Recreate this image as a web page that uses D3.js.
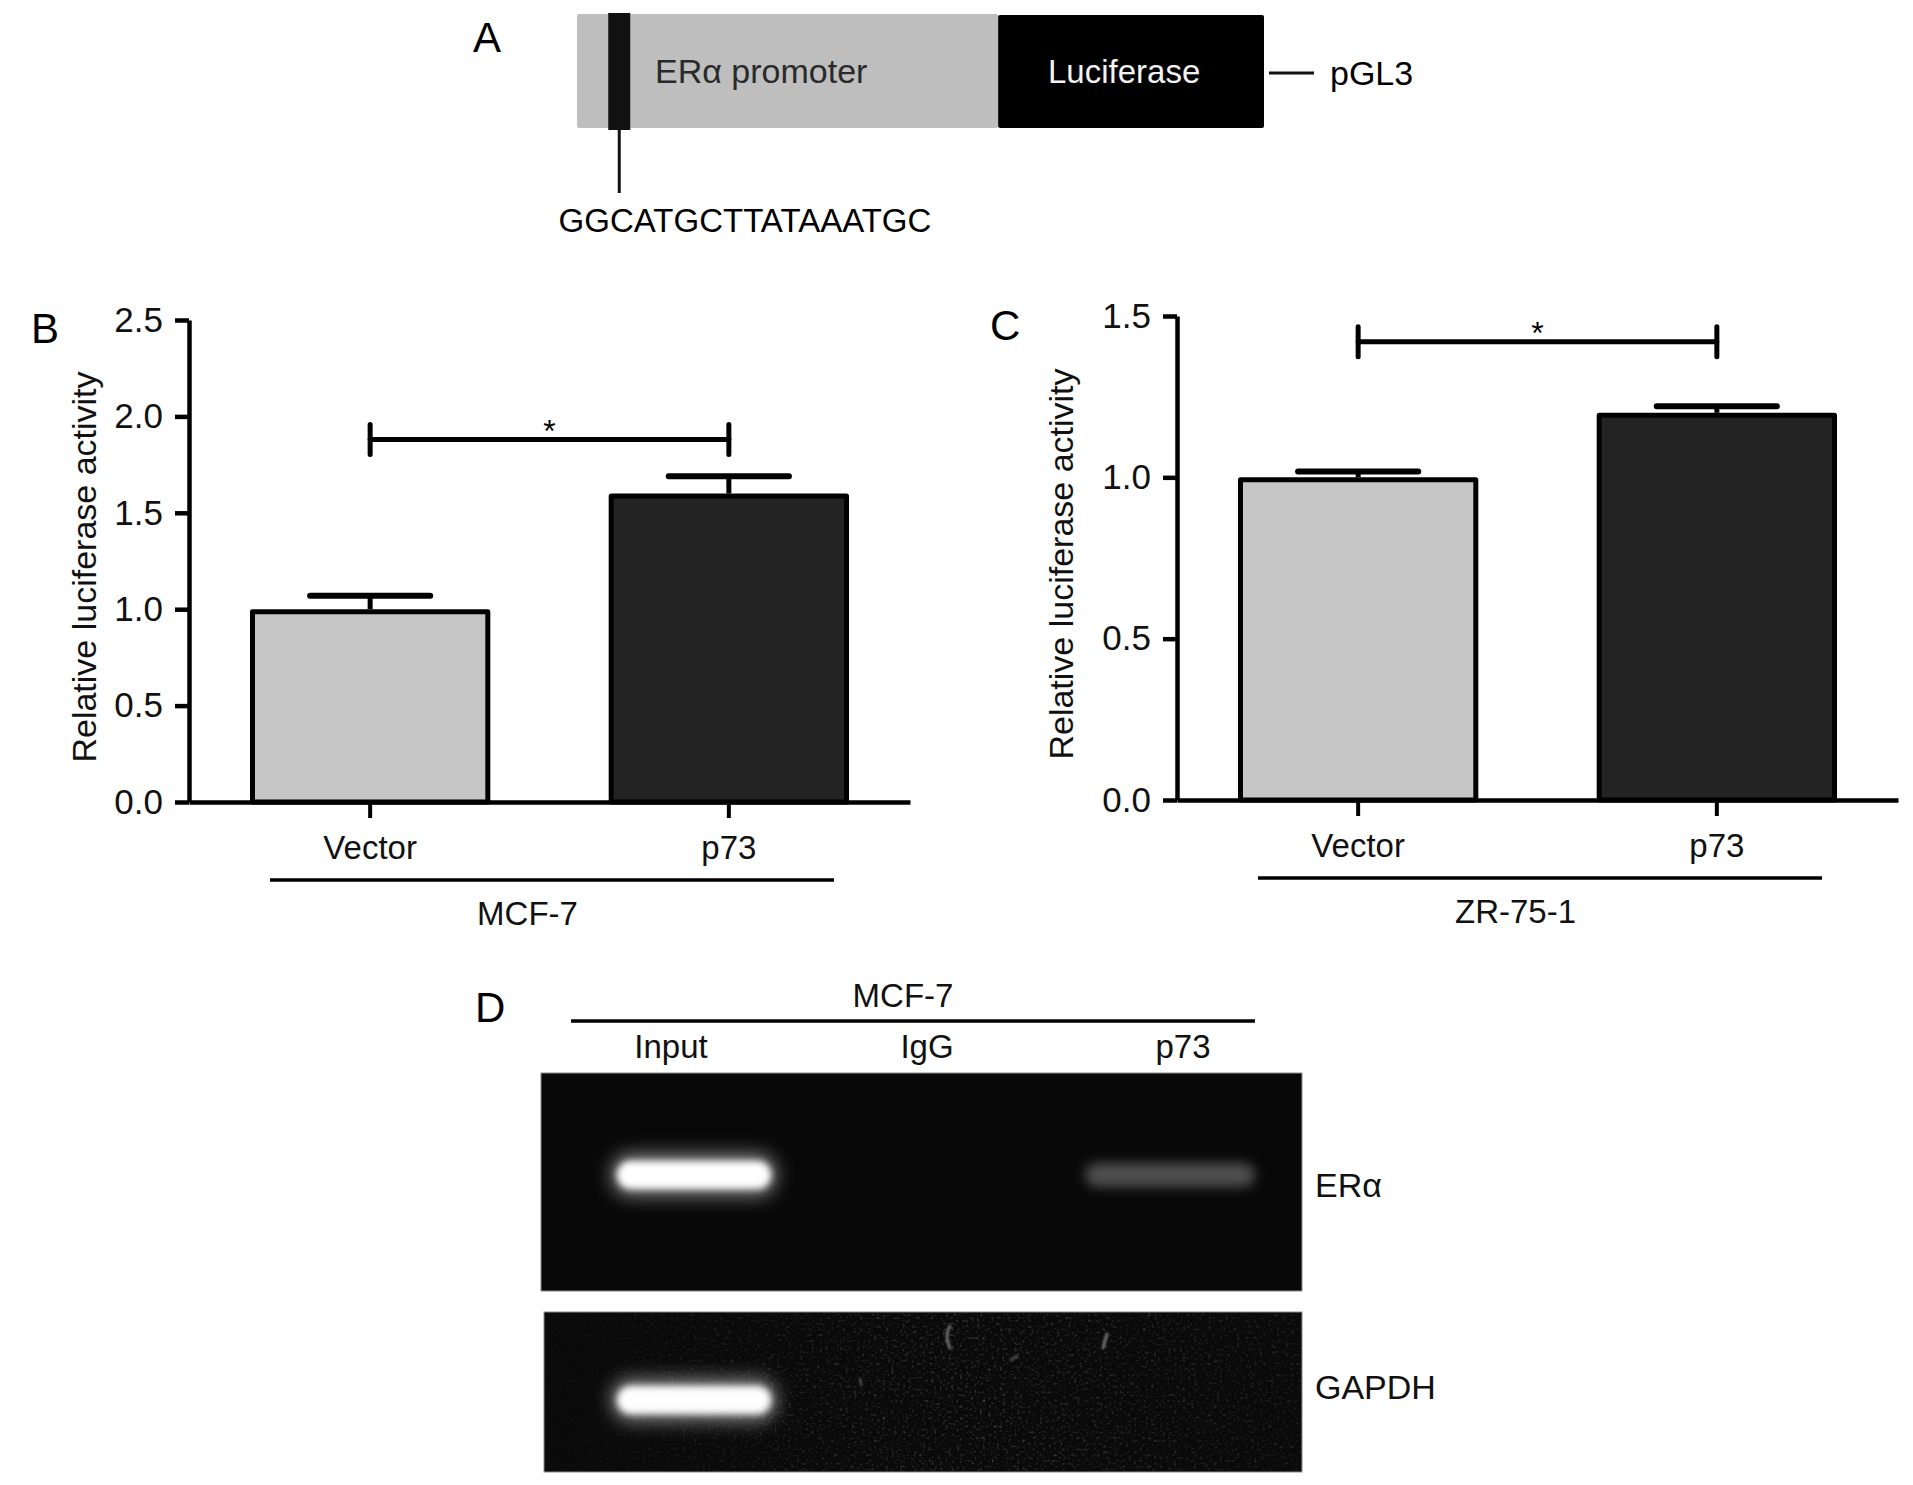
<!DOCTYPE html>
<html><head><meta charset="utf-8">
<script src="https://cdn.jsdelivr.net/npm/d3@7"></script>
<style>
html,body{margin:0;padding:0;background:#fff}
svg{display:block}
text{font-family:"Liberation Sans",Arial,Helvetica,sans-serif}
</style>
</head><body>
<svg id="fig" width="1913" height="1485"></svg>
<script>
// ---------------- data ----------------
const categories = ["Vector", "p73"];
const mcf7Values = [1.0, 1.6];
const mcf7Errors = [0.07, 0.09];
const mcf7Sig = 1.88;          // level of significance bracket
const zr751Values = [1.0, 1.2];
const zr751Errors = [0.018, 0.02];
const zr751Sig = 1.42;
const mcf7Ticks = [0, 0.5, 1.0, 1.5, 2.0, 2.5];
const zr751Ticks = [0, 0.5, 1.0, 1.5];
const yAxisTitle = "Relative luciferase activity";
const cellLines = ["MCF-7", "ZR-75-1"];
const gelLanes = ["Input", "IgG", "p73"];
const eraBand = [1.0, 0.0, 0.22];
const gapdhBand = [1.0, 0.0, 0.0];
const gelTargets = ["ERα", "GAPDH"];
const promoterSequence = "GGCATGCTTATAAATGC";
const constructParts = ["ERα promoter", "Luciferase"];
const vectorName = "pGL3";

// ---------------- style ----------------
const barFills = ["#c6c6c6", "#232323"];
const FS = 34;
const svg = d3.select("#fig");
const defs = svg.append("defs");

// ---------------- panel A ----------------
(function panelA(){
  const g = svg.append("g");
  g.append("text").attr("x", 473).attr("y", 52).attr("font-size", 42).text("A");
  const px = d3.scaleLinear().domain([0, 1]).range([577, 1264]);
  const split = 0.613;
  g.append("rect").attr("x", px(0)).attr("y", 14).attr("width", px(split) - px(0)).attr("height", 114)
    .attr("fill", "#bebebe").attr("rx", 2);
  g.append("rect").attr("x", px(split)).attr("y", 15).attr("width", px(1) - px(split)).attr("height", 113)
    .attr("fill", "#000").attr("rx", 2);
  const siteX = px(0.0615);
  g.append("rect").attr("x", siteX - 11).attr("y", 13).attr("width", 22).attr("height", 117).attr("fill", "#111");
  g.append("line").attr("x1", siteX).attr("x2", siteX).attr("y1", 128).attr("y2", 193)
    .attr("stroke", "#111").attr("stroke-width", 3);
  g.append("text").attr("x", 655).attr("y", 83).attr("font-size", FS).attr("fill", "#2a2a2a").text(constructParts[0]);
  g.append("text").attr("x", 1048).attr("y", 83).attr("font-size", 33).attr("fill", "#f2f2f2").text(constructParts[1]);
  g.append("line").attr("x1", 1269).attr("x2", 1314).attr("y1", 73).attr("y2", 73)
    .attr("stroke", "#111").attr("stroke-width", 3);
  g.append("text").attr("x", 1330).attr("y", 85).attr("font-size", FS).text(vectorName);
  g.append("text").attr("x", 745).attr("y", 232).attr("font-size", 33).attr("text-anchor", "middle")
    .text(promoterSequence);
})();

// ---------------- bar panels ----------------
function barPanel(o){
  const g = svg.append("g");
  const x = d3.scaleBand().domain(categories).range([o.x0, o.x0 + 721]).paddingInner(0.33).paddingOuter(0.17);
  const y = d3.scaleLinear().domain([0, o.yMax]).range([o.yBottom, o.yTop]);
  const bw = x.bandwidth();

  g.append("text").attr("x", o.letterX).attr("y", o.letterY).attr("font-size", 42).text(o.letter);

  // y axis
  const ya = g.append("g").attr("transform", `translate(${o.x0},0)`)
    .call(d3.axisLeft(y).tickValues(o.ticks).tickFormat(d3.format(".1f")).tickSize(14).tickSizeOuter(0).tickPadding(12));
  ya.select(".domain").attr("stroke-width", 4.5).attr("stroke", "#000");
  ya.selectAll(".tick line").attr("stroke-width", 4.5).attr("stroke", "#000");
  ya.selectAll(".tick text").attr("font-size", 35).attr("fill", "#111")
    .style("font-family", '"Liberation Sans",Arial,sans-serif');
  ya.attr("font-family", null).attr("font-size", null);

  // y title
  g.append("text")
    .attr("transform", `translate(${o.titleX},${(o.yTop + o.yBottom) / 2 + 6}) rotate(-90)`)
    .attr("text-anchor", "middle").attr("font-size", FS).attr("fill", "#111").text(yAxisTitle);

  // bars
  g.selectAll("rect.bar").data(o.values).join("rect").attr("class", "bar")
    .attr("x", (d, i) => x(categories[i]) + 2.5)
    .attr("y", d => y(d) + 2.5)
    .attr("width", bw - 5)
    .attr("height", d => o.yBottom - y(d) - 2.5)
    .attr("fill", (d, i) => barFills[i])
    .attr("stroke", "#000").attr("stroke-width", 5).attr("stroke-linejoin", "round");

  // error bars
  const eb = g.selectAll("g.err").data(o.values).join("g").attr("class", "err");
  eb.append("line")
    .attr("x1", (d, i) => x(categories[i]) + bw / 2).attr("x2", (d, i) => x(categories[i]) + bw / 2)
    .attr("y1", d => y(d)).attr("y2", (d, i) => y(d + o.errors[i]))
    .attr("stroke", "#000").attr("stroke-width", 5);
  eb.append("line")
    .attr("x1", (d, i) => x(categories[i]) + bw / 4).attr("x2", (d, i) => x(categories[i]) + 3 * bw / 4)
    .attr("y1", (d, i) => y(d + o.errors[i])).attr("y2", (d, i) => y(d + o.errors[i]))
    .attr("stroke", "#000").attr("stroke-width", 6).attr("stroke-linecap", "round");

  // x axis
  const xa = g.append("g").attr("transform", `translate(0,${o.yBottom})`)
    .call(d3.axisBottom(x).tickSize(16).tickSizeOuter(0).tickPadding(18));
  xa.select(".domain").attr("stroke-width", 4.5).attr("stroke", "#000");
  xa.selectAll(".tick line").attr("stroke-width", 4).attr("stroke", "#000");
  xa.selectAll(".tick text").attr("font-size", 33).attr("fill", "#111")
    .style("font-family", '"Liberation Sans",Arial,sans-serif');
  xa.attr("font-family", null).attr("font-size", null);

  // significance bracket
  const c0 = x(categories[0]) + bw / 2, c1 = x(categories[1]) + bw / 2, sy = y(o.sig);
  const br = g.append("g").attr("stroke", "#000").attr("stroke-width", 5).attr("stroke-linecap", "round");
  br.append("line").attr("x1", c0).attr("x2", c1).attr("y1", sy).attr("y2", sy);
  [c0, c1].forEach(cx => br.append("line").attr("x1", cx).attr("x2", cx).attr("y1", sy - 15).attr("y2", sy + 15));
  g.append("text").attr("x", (c0 + c1) / 2).attr("y", sy + 2).attr("text-anchor", "middle")
    .attr("font-size", 32).text("*");

  // group line + cell line name
  const gx0 = x(categories[0]) + 20, gx1 = x(categories[1]) + bw - 15;
  g.append("line").attr("x1", gx0).attr("x2", gx1).attr("y1", o.yBottom + 78).attr("y2", o.yBottom + 78)
    .attr("stroke", "#000").attr("stroke-width", 3.5);
  g.append("text").attr("x", (c0 + c1) / 2 - 22).attr("y", o.yBottom + 123).attr("text-anchor", "middle")
    .attr("font-size", 33).attr("fill", "#111").text(o.cell);
}

barPanel({letter: "B", letterX: 31, letterY: 343, x0: 189, yTop: 320, yBottom: 802, yMax: 2.5,
  ticks: mcf7Ticks, values: mcf7Values, errors: mcf7Errors, sig: mcf7Sig, cell: cellLines[0], titleX: 96});
barPanel({letter: "C", letterX: 990, letterY: 340, x0: 1177, yTop: 316, yBottom: 800, yMax: 1.5,
  ticks: zr751Ticks, values: zr751Values, errors: zr751Errors, sig: zr751Sig, cell: cellLines[1], titleX: 1073});

// ---------------- panel D (gel) ----------------
(function panelD(){
  const g = svg.append("g");
  g.append("text").attr("x", 475).attr("y", 1022).attr("font-size", 42).text("D");
  g.append("text").attr("x", 903).attr("y", 1007).attr("text-anchor", "middle").attr("font-size", 33)
    .attr("fill", "#111").text(cellLines[0]);
  g.append("line").attr("x1", 571).attr("x2", 1255).attr("y1", 1021).attr("y2", 1021)
    .attr("stroke", "#000").attr("stroke-width", 3.5);
  const lx = d3.scalePoint().domain(gelLanes).range([671, 1183]);
  g.selectAll("text.lane").data(gelLanes).join("text").attr("class", "lane")
    .attr("x", d => lx(d)).attr("y", 1058).attr("text-anchor", "middle").attr("font-size", 33)
    .attr("fill", "#111").text(d => d);

  // filters
  const f1 = defs.append("filter").attr("id", "core").attr("x", "-50%").attr("y", "-100%").attr("width", "200%").attr("height", "300%");
  f1.append("feGaussianBlur").attr("stdDeviation", 3.5);
  const f2 = defs.append("filter").attr("id", "glow").attr("x", "-50%").attr("y", "-150%").attr("width", "200%").attr("height", "400%");
  f2.append("feGaussianBlur").attr("stdDeviation", 9);
  const f3 = defs.append("filter").attr("id", "soft").attr("x", "-50%").attr("y", "-150%").attr("width", "200%").attr("height", "400%");
  f3.append("feGaussianBlur").attr("stdDeviation", 6);
  const fs = defs.append("filter").attr("id", "fleck").attr("x", "-100%").attr("y", "-100%").attr("width", "300%").attr("height", "300%");
  fs.append("feGaussianBlur").attr("stdDeviation", 1.2);
  const fn = defs.append("filter").attr("id", "noise").attr("x", 0).attr("y", 0).attr("width", "100%").attr("height", "100%");
  fn.append("feTurbulence").attr("type", "fractalNoise").attr("baseFrequency", 0.35).attr("numOctaves", 2).attr("seed", 11);
  fn.append("feColorMatrix").attr("type", "matrix")
    .attr("values", "0 0 0 0 1  0 0 0 0 1  0 0 0 0 1  1.4 0 0 0 -0.78");
  const fade = defs.append("linearGradient").attr("id", "noiseFade").attr("x1", 0).attr("x2", 1);
  fade.append("stop").attr("offset", 0).attr("stop-color", "#fff").attr("stop-opacity", 0.1);
  fade.append("stop").attr("offset", 0.55).attr("stop-color", "#fff").attr("stop-opacity", 0.9);
  fade.append("stop").attr("offset", 1).attr("stop-color", "#fff").attr("stop-opacity", 0.5);
  const mk = defs.append("mask").attr("id", "noiseMask");
  mk.append("rect").attr("x", 544).attr("y", 1312).attr("width", 758).attr("height", 160).attr("fill", "url(#noiseFade)");

  const bx = d3.scalePoint().domain(gelLanes).range([694, 1170]);
  const gels = [
    {name: gelTargets[0], y: 1073, h: 218, x: 541, w: 761, bands: eraBand, by: 1175, bg: "#080808", noise: 0.0, ly: 1197},
    {name: gelTargets[1], y: 1312, h: 160, x: 544, w: 758, bands: gapdhBand, by: 1400, bg: "#0a0a0a", noise: 0.55, ly: 1399}
  ];
  gels.forEach(gl => {
    const gg = g.append("g");
    gg.append("rect").attr("x", gl.x).attr("y", gl.y).attr("width", gl.w).attr("height", gl.h)
      .attr("fill", gl.bg).attr("stroke", "#8a8a8a").attr("stroke-width", 1);
    if (gl.noise > 0) {
      gg.append("rect").attr("x", gl.x + 1).attr("y", gl.y + 1).attr("width", gl.w - 2).attr("height", gl.h - 2)
        .attr("filter", "url(#noise)").attr("opacity", gl.noise).attr("mask", "url(#noiseMask)");
      // a few dust flecks / scratches on the GAPDH gel
      const fl = gg.append("g").attr("stroke", "#9a9a9a").attr("stroke-width", 3).attr("fill", "none")
        .attr("stroke-linecap", "round").attr("filter", "url(#fleck)").attr("opacity", 0.7);
      fl.append("path").attr("d", `M${gl.x + 406},${gl.y + 14} q-6,10 0,22`);
      fl.append("path").attr("d", `M${gl.x + 563},${gl.y + 22} l-4,14`);
      fl.append("path").attr("d", `M${gl.x + 467},${gl.y + 48} l6,-4`).attr("opacity", 0.6);
      fl.append("path").attr("d", `M${gl.x + 316},${gl.y + 67} l1,6`).attr("opacity", 0.5);
    }
    gl.bands.forEach((v, i) => {
      if (v <= 0) return;
      const cx = bx(gelLanes[i]);
      const strong = v > 0.6;
      if (strong) {
        const bwid = 154, bh = 28;
        gg.append("rect").attr("x", cx - bwid / 2 - 6).attr("y", gl.by - bh / 2 - 8).attr("width", bwid + 12).attr("height", bh + 16)
          .attr("rx", 20).attr("fill", "#fff").attr("opacity", 0.45).attr("filter", "url(#glow)");
        gg.append("rect").attr("x", cx - bwid / 2).attr("y", gl.by - bh / 2).attr("width", bwid).attr("height", bh)
          .attr("rx", bh / 2).attr("fill", "#fff").attr("filter", "url(#core)");
      } else {
        const bwid = 170, bh = 24;
        gg.append("rect").attr("x", cx - bwid / 2).attr("y", gl.by - bh / 2).attr("width", bwid).attr("height", bh)
          .attr("rx", bh / 2).attr("fill", "#fff").attr("opacity", v * 1.3).attr("filter", "url(#soft)");
      }
    });
    gg.append("text").attr("x", 1315).attr("y", gl.ly)
      .attr("font-size", FS).attr("fill", "#111").text(gl.name);
  });
})();
</script>
</body></html>
